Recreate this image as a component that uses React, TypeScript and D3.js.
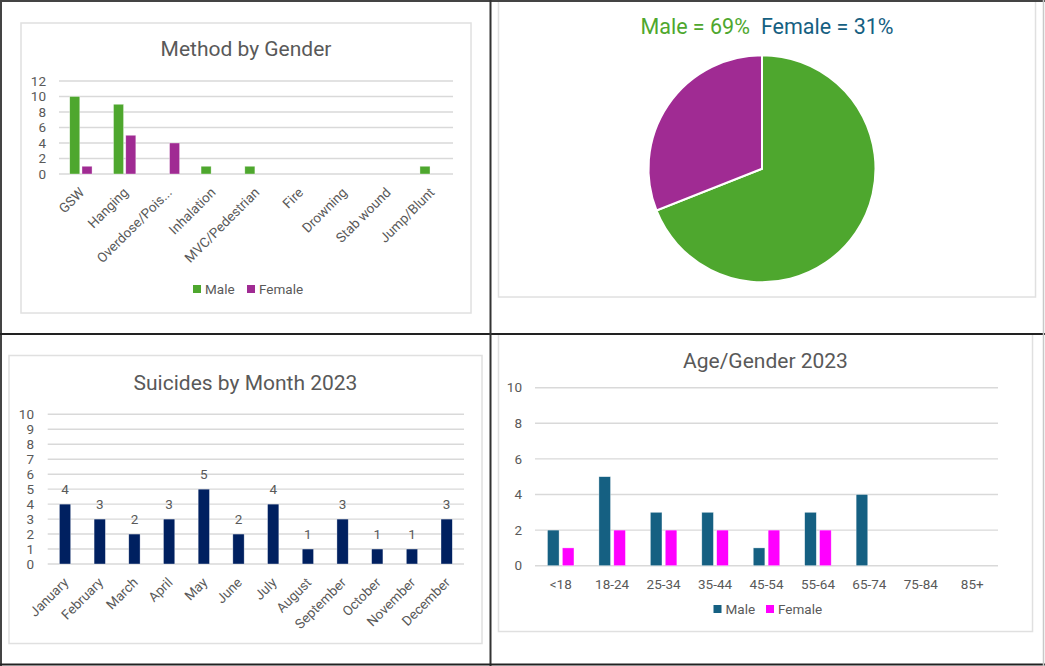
import * as d3 from 'd3';

// Method by Gender
const methodCategories = ['GSW', 'Hanging', 'Overdose/Pois...', 'Inhalation', 'MVC/Pedestrian', 'Fire', 'Drowning', 'Stab wound', 'Jump/Blunt'];
const methodMale = [10, 9, 0, 1, 1, 0, 0, 0, 1];
const methodFemale = [1, 5, 4, 0, 0, 0, 0, 0, 0];
const methodTicks = [0, 2, 4, 6, 8, 10, 12];

// Gender split (pie)
const pieLabels = ['Male', 'Female'];
const pieValues = [69, 31];

// Suicides by month
const months = ['January', 'February', 'March', 'April', 'May', 'June', 'July', 'August', 'September', 'October', 'November', 'December'];
const monthValues = [4, 3, 2, 3, 5, 2, 4, 1, 3, 1, 1, 3];
const monthTicks = [0, 1, 2, 3, 4, 5, 6, 7, 8, 9, 10];

// Age / gender
const ageGroups = ['<18', '18-24', '25-34', '35-44', '45-54', '55-64', '65-74', '75-84', '85+'];
const ageMale = [2, 5, 3, 3, 1, 3, 4, 0, 0];
const ageFemale = [1, 2, 2, 2, 2, 2, 0, 0, 0];
const ageTicks = [0, 2, 4, 6, 8, 10];

const FONT = 'Roboto, "Noto Sans", sans-serif';
const GRAY = '#595959';
const GRID = '#d9d9d9';
const FRAME = '#e0e0e0';
const TICK_SIZE = 13.5;

interface Series {
  name: string;
  values: number[];
  color: string;
}

interface BarPanelProps {
  title: string;
  titleX: number;
  titleY: number;
  categories: string[];
  series: Series[];
  left: number;
  right: number;
  base: number;
  top: number;
  ticks: number[];
  tickX: number;
  groupRatio: number;
  barPad: number;
  rotate: boolean;
  labelY: number;
  dataLabels?: boolean;
  legendX?: number;
  legendY?: number;
  legendStep?: number;
}

const BarPanel = (p: BarPanelProps) => {
  const yMax = p.ticks[p.ticks.length - 1];
  const y = d3.scaleLinear().domain([0, yMax]).range([p.base, p.top]);
  const x = d3.scaleBand<string>().domain(p.categories).range([p.left, p.right]);
  const groupW = x.bandwidth() * p.groupRatio;
  const inner = d3.scaleBand<string>()
    .domain(p.series.map(s => s.name))
    .range([-groupW / 2, groupW / 2])
    .paddingInner(p.barPad);

  return (
    <g fontFamily={FONT}>
      <text x={p.titleX} y={p.titleY} textAnchor="middle" fontSize={21} fill={GRAY}>{p.title}</text>
      {p.ticks.map(t => (
        <g key={t}>
          <line x1={p.left} x2={p.right} y1={y(t)} y2={y(t)} stroke={GRID} strokeWidth={1.4} />
          <text x={p.tickX} y={y(t)} dy="0.35em" textAnchor="end" fontSize={TICK_SIZE} fill={GRAY}>{t}</text>
        </g>
      ))}
      {p.series.map(s => (
        <g key={s.name}>
          {s.values.map((v, i) => {
            if (v <= 0) return null;
            const cx = (x(p.categories[i]) ?? 0) + x.bandwidth() / 2;
            const bx = cx + (inner(s.name) ?? 0);
            return (
              <g key={i}>
                <rect x={bx} y={y(v)} width={inner.bandwidth()} height={y(0) - y(v)}
                  fill={s.color} stroke="#ffffff" strokeOpacity={0.6} strokeWidth={0.6} />
                {p.dataLabels && (
                  <text x={cx} y={y(v) - 10} textAnchor="middle" fontSize={TICK_SIZE} fill={GRAY}>{v}</text>
                )}
              </g>
            );
          })}
        </g>
      ))}
      {p.categories.map(c => {
        const cx = (x(c) ?? 0) + x.bandwidth() / 2;
        return p.rotate ? (
          <text key={c} transform={`translate(${cx + 1},${p.labelY}) rotate(-45)`} dy="0.35em"
            textAnchor="end" fontSize={TICK_SIZE} fill={GRAY}>{c}</text>
        ) : (
          <text key={c} x={cx} y={p.labelY} dy="0.35em" textAnchor="middle" fontSize={TICK_SIZE} fill={GRAY}>{c}</text>
        );
      })}
      {p.legendX !== undefined && p.series.map((s, i) => {
        const lx = (p.legendX ?? 0) + i * (p.legendStep ?? 50);
        const ly = p.legendY ?? 0;
        return (
          <g key={s.name}>
            <rect x={lx} y={ly - 4} width={8} height={8} fill={s.color} />
            <text x={lx + 12} y={ly} dy="0.35em" fontSize={TICK_SIZE} fill={GRAY}>{s.name}</text>
          </g>
        );
      })}
    </g>
  );
};

const PiePanel = () => {
  const cx = 762;
  const cy = 168.7;
  const r = 113.5;
  const pie = d3.pie<number>().sort(null)(pieValues);
  const arc = d3.arc<d3.PieArcDatum<number>>().innerRadius(0).outerRadius(r);
  const colors = ['#4ea72e', '#a02b93'];
  return (
    <g fontFamily={FONT}>
      <text x={767} y={33.5} textAnchor="middle" fontSize={21.5}>
        <tspan fill="#4ea72e">{`${pieLabels[0]} = ${pieValues[0]}%`}</tspan>
        <tspan fill="#156082" dx={11}>{`${pieLabels[1]} = ${pieValues[1]}%`}</tspan>
      </text>
      <g transform={`translate(${cx},${cy})`}>
        {pie.map((d, i) => (
          <path key={i} d={arc(d) ?? ''} fill={colors[i]} stroke="#ffffff" strokeWidth={2} />
        ))}
      </g>
    </g>
  );
};

export default function App() {
  return (
    <svg width={1045} height={666} style={{ position: 'absolute', left: 0, top: 0, background: '#ffffff' }}>
      <rect x={0} y={0} width={1045} height={666} fill="#ffffff" />

      {/* chart frames */}
      <rect x={21} y={23} width={450} height={290} fill="none" stroke={FRAME} strokeWidth={1.5} />
      <rect x={498.5} y={-5} width={537} height={302} fill="none" stroke={FRAME} strokeWidth={1.5} />
      <rect x={9} y={355.5} width={473} height={288} fill="none" stroke={FRAME} strokeWidth={1.5} />
      <rect x={498.5} y={334} width={534} height={297.5} fill="none" stroke={FRAME} strokeWidth={1.5} />

      <BarPanel
        title="Method by Gender" titleX={246} titleY={56}
        categories={methodCategories}
        series={[
          { name: 'Male', values: methodMale, color: '#4ea72e' },
          { name: 'Female', values: methodFemale, color: '#a02b93' },
        ]}
        left={59} right={453} base={174} top={81} ticks={methodTicks} tickX={46}
        groupRatio={0.51} barPad={0.18} rotate labelY={190}
        legendX={193} legendY={289} legendStep={54}
      />

      <PiePanel />

      <BarPanel
        title="Suicides by Month 2023" titleX={245.5} titleY={389.5}
        categories={months}
        series={[{ name: 'Suicides', values: monthValues, color: '#002060' }]}
        left={47.7} right={464} base={564} top={414.3} ticks={monthTicks} tickX={34}
        groupRatio={0.326} barPad={0} rotate labelY={580} dataLabels
      />

      <BarPanel
        title="Age/Gender 2023" titleX={765.5} titleY={367.5}
        categories={ageGroups}
        series={[
          { name: 'Male', values: ageMale, color: '#156082' },
          { name: 'Female', values: ageFemale, color: '#ff00ff' },
        ]}
        left={535} right={998} base={565.7} top={387.7} ticks={ageTicks} tickX={522}
        groupRatio={0.515} barPad={0.22} rotate={false} labelY={584}
        legendX={713.5} legendY={609} legendStep={52.5}
      />

      {/* panel borders */}
      <line x1={0} x2={1045} y1={1} y2={1} stroke="#444" strokeWidth={2} />
      <line x1={1} x2={1} y1={0} y2={666} stroke="#444" strokeWidth={2} />
      <line x1={0} x2={1045} y1={334} y2={334} stroke="#222" strokeWidth={2} />
      <line x1={490.5} x2={490.5} y1={0} y2={666} stroke="#333" strokeWidth={2} />
      <line x1={0} x2={1045} y1={664.5} y2={664.5} stroke="#222" strokeWidth={2} />
      <line x1={1043.5} x2={1043.5} y1={0} y2={666} stroke="#c8c8c8" strokeWidth={1.5} />
    </svg>
  );
}
